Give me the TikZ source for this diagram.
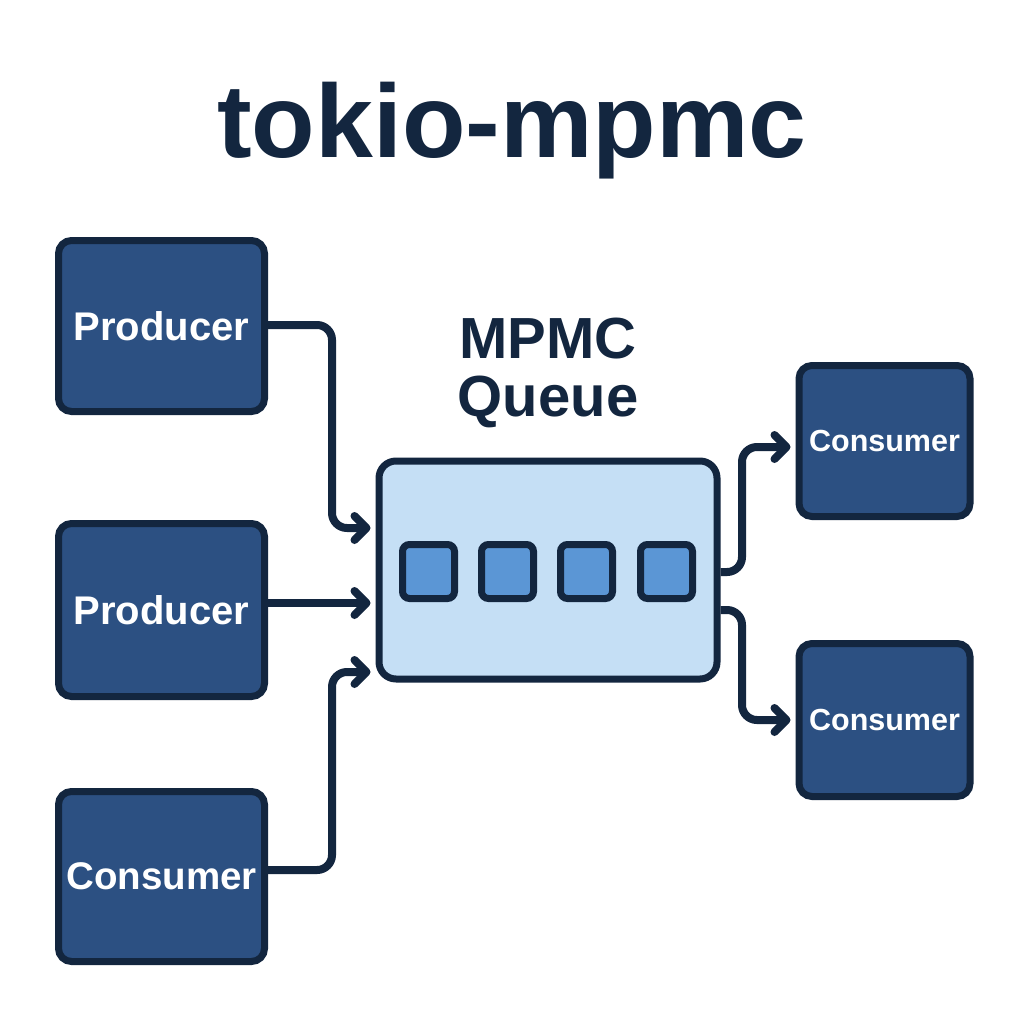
\documentclass[tikz,border=0pt]{standalone}
\usepackage{fontspec}
\setmainfont{Liberation Sans}
\usetikzlibrary{positioning,arrows.meta,calc}

\definecolor{navy}{HTML}{13263F}
\definecolor{boxblue}{HTML}{2C5082}
\definecolor{qfill}{HTML}{C5DFF5}
\definecolor{slotblue}{HTML}{5B96D5}

\begin{document}
\begin{tikzpicture}[
  x=1pt, y=-1pt,
  >={Straight Barb[length=12pt,width=24pt,round]},
  box/.style={draw=navy, fill=boxblue, rounded corners=13pt, line width=7pt,
    text=white, font=\bfseries\fontsize{40}{44}\selectfont, inner sep=0pt},
  cbox/.style={box, minimum width=171pt, font=\bfseries\fontsize{30.5}{34}\selectfont},
  queue/.style={draw=navy, fill=qfill, rounded corners=17pt, line width=7pt,
    minimum width=338pt, minimum height=218pt},
  slot/.style={draw=navy, fill=slotblue, rounded corners=7pt, line width=7pt,
    minimum width=52pt, minimum height=54pt},
  link/.style={->, draw=navy, line width=8pt, rounded corners=15pt, shorten >=5pt},
]
\useasboundingbox[fill=white] (0,0) rectangle (1024,1024);
% ---- title ----
\node[text=navy, font=\bfseries\fontsize{104}{110}\selectfont] (title) at (512,131) {tokio-mpmc};
% ---- producers and consumers on the left ----
\node[box, minimum width=206pt, minimum height=171pt] (p1) at (161.5,326) {Producer};
\node[box, minimum width=206pt, minimum height=173pt] (p2) at (161.5,610) {Producer};
\node[box, minimum width=206pt, minimum height=170pt, font=\bfseries\fontsize{38.5}{42}\selectfont] (c0) at (161.5,876.5) {Consumer};
% ---- the queue ----
\node[queue] (q) at (548,570) {};
\node[text=navy, font=\bfseries\fontsize{58}{58}\selectfont, align=center] (qlbl) at (548,373)
  {MPMC\\Queue};
\foreach \i/\x in {1/428.5,2/507.5,3/586.5,4/666.5}
  \node[slot] (s\i) at (\x,571.5) {};
% ---- consumers on the right ----
\node[cbox, minimum height=151pt] (c1) at (884.5,441) {Consumer};
\node[cbox, minimum height=153pt] (c2) at (884.5,720) {Consumer};
% ---- connectors ----
\draw[link] ([yshift=1pt]p1.east) -| (332,470) |- ([yshift=42pt]q.west);
\draw[link] ([yshift=7pt]p2.east) -- ([yshift=7pt]p2.east -| q.west);
\draw[link] ([yshift=6.5pt]c0.east) -| (332,760) |- ([yshift=-102pt]q.west);
\draw[link] ([yshift=-2pt]q.east) -| (742,500) |- ([yshift=-6pt]c1.west);
\draw[link] ([yshift=-40pt]q.east) -| (742,680) |- (c2.west);
\end{tikzpicture}
\end{document}
